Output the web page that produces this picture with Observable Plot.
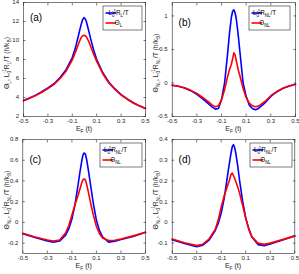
<!DOCTYPE html>
<html><head><meta charset="utf-8">
<script src="https://cdn.jsdelivr.net/npm/d3@7"></script>
<script src="https://cdn.jsdelivr.net/npm/@observablehq/plot@0.6"></script>
<style>
body{margin:0;background:#fff;}
#wrap{position:relative;width:299px;height:274px;overflow:hidden;background:#fff;}
.panel{position:absolute;}
</style></head><body><div id="wrap"></div>
<script>
const xTicks = [-0.5, -0.3, -0.1, 0.1, 0.3, 0.5];
const panelLabels = ["(a)", "(b)", "(c)", "(d)"];

const yTicksA = [2, 4, 6, 8, 10, 12, 14];
const yTicksB = [-0.5, 0, 0.5, 1];
const yTicksC = [-0.2, 0, 0.2, 0.4, 0.6, 0.8];
const yTicksD = [-0.1, 0, 0.1, 0.2, 0.3, 0.4];

const xA = [-0.5,-0.45,-0.4,-0.35,-0.3,-0.25,-0.2,-0.15,-0.1,-0.075,-0.05,-0.035,-0.025,-0.015,-0.005,0.005,0.015,0.025,0.035,0.05,0.075,0.1,0.15,0.2,0.25,0.3,0.35,0.4,0.45,0.5];
const blueA = [3.68,3.95,4.25,4.6,5.0,5.45,6.1,6.95,8.2,9.2,10.5,11.3,11.8,12.2,12.4,12.3,12.0,11.5,11.0,10.2,9.0,8.0,6.6,5.6,4.9,4.3,3.85,3.45,3.12,2.85];
const redA  = [3.66,3.92,4.2,4.55,4.93,5.38,6.0,6.8,7.95,8.75,9.6,10.1,10.35,10.5,10.55,10.5,10.4,10.15,9.9,9.4,8.55,7.8,6.5,5.52,4.85,4.26,3.82,3.42,3.1,2.84];

const xB = [-0.5,-0.45,-0.4,-0.35,-0.3,-0.25,-0.2,-0.175,-0.15,-0.125,-0.1,-0.075,-0.05,-0.035,-0.02,-0.01,0,0.01,0.02,0.035,0.05,0.075,0.1,0.125,0.15,0.175,0.2,0.25,0.3,0.35,0.4,0.45,0.5];
const blueB = [-0.035,-0.05,-0.075,-0.115,-0.17,-0.24,-0.32,-0.36,-0.39,-0.38,-0.25,0.0,0.45,0.75,0.98,1.07,1.09,1.05,0.95,0.72,0.45,0.0,-0.2,-0.33,-0.38,-0.4,-0.38,-0.3,-0.2,-0.13,-0.08,-0.045,-0.02];
const redB  = [-0.035,-0.05,-0.07,-0.11,-0.155,-0.22,-0.29,-0.33,-0.355,-0.34,-0.25,-0.1,0.1,0.2,0.28,0.36,0.45,0.42,0.33,0.2,0.1,-0.08,-0.22,-0.3,-0.34,-0.355,-0.345,-0.28,-0.19,-0.125,-0.075,-0.045,-0.02];

const xC = [-0.5,-0.4,-0.3,-0.25,-0.2,-0.15,-0.125,-0.1,-0.075,-0.05,-0.035,-0.02,-0.01,0,0.01,0.02,0.035,0.05,0.075,0.1,0.125,0.15,0.2,0.25,0.3,0.4,0.5];
const blueC = [-0.11,-0.145,-0.178,-0.192,-0.18,-0.12,-0.06,0.03,0.17,0.36,0.48,0.59,0.65,0.67,0.66,0.61,0.5,0.38,0.18,0.02,-0.08,-0.14,-0.19,-0.182,-0.165,-0.135,-0.095];
const redC  = [-0.105,-0.14,-0.17,-0.18,-0.17,-0.1,-0.03,0.07,0.17,0.26,0.32,0.38,0.41,0.42,0.41,0.37,0.29,0.2,0.07,-0.04,-0.11,-0.15,-0.175,-0.172,-0.16,-0.13,-0.095];

const xD = [-0.5,-0.4,-0.3,-0.25,-0.2,-0.15,-0.125,-0.1,-0.075,-0.05,-0.035,-0.02,-0.01,0,0.01,0.02,0.035,0.05,0.075,0.1,0.125,0.15,0.2,0.25,0.3,0.4,0.5];
const blueD = [-0.084,-0.102,-0.117,-0.11,-0.086,-0.04,-0.005,0.045,0.12,0.22,0.28,0.335,0.365,0.375,0.36,0.33,0.27,0.2,0.1,0.02,-0.03,-0.07,-0.107,-0.112,-0.104,-0.085,-0.065];
const redD  = [-0.08,-0.098,-0.112,-0.105,-0.08,-0.035,0.01,0.075,0.13,0.175,0.2,0.232,0.238,0.225,0.212,0.195,0.17,0.14,0.08,0.02,-0.035,-0.07,-0.1,-0.106,-0.1,-0.083,-0.065];

const panels = [
  {x: xA, blue: blueA, red: redA, yDomain: [2, 14], yTicks: yTicksA, kind: "L", left: 0, top: 0, width: 150, ml: 23, mr: 5, labelY: 21, ylx: 8.5, lx: 103, lw: 39},
  {x: xB, blue: blueB, red: redB, yDomain: [-0.5, 1.2], yTicks: yTicksB, kind: "NL", left: 150, top: 0, width: 149, ml: 21.7, mr: 4, labelY: 26, ylx: 7.5, lx: 99, lw: 41},
  {x: xC, blue: blueC, red: redC, yDomain: [-0.3, 0.8], yTicks: yTicksC, kind: "NL", left: 0, top: 137, width: 150, ml: 22.3, mr: 5, labelY: 26, ylx: 9, lx: 100, lw: 42},
  {x: xD, blue: blueD, red: redD, yDomain: [-0.15, 0.4], yTicks: yTicksD, kind: "NL", left: 150, top: 137, width: 149, ml: 21.7, mr: 4.7, labelY: 26, ylx: 7.5, lx: 100, lw: 42}
];

const FONT = "'Liberation Sans', Arial, Helvetica, sans-serif";
const INK = "#262626";

function rich(sel, parts, fs) {
  let cur = 0;
  for (const [s, kind, dxEm] of parts) {
    const target = kind === "sub" ? 0.32 * fs : kind === "sup" ? -0.42 * fs : 0;
    const size = kind === "n" ? fs : 0.7 * fs;
    const t = sel.append("tspan").attr("font-size", size).attr("dy", target - cur).text(s);
    if (dxEm) t.attr("dx", dxEm * fs);
    cur = target;
  }
}

const wrap = d3.select("#wrap");
const H = 137, MT = 2, MB = 21;

panels.forEach((p, i) => {
  const blueData = p.x.map((v, j) => ({x: v, y: p.blue[j]}));
  const redData = p.x.map((v, j) => ({x: v, y: p.red[j]}));
  const svg = Plot.plot({
    width: p.width, height: H,
    marginLeft: p.ml, marginRight: p.mr, marginTop: MT, marginBottom: MB,
    x: {domain: [-0.5, 0.5]},
    y: {domain: p.yDomain},
    style: {fontFamily: FONT, fontSize: "6px", color: INK, background: "transparent", overflow: "visible"},
    marks: [
      Plot.axisX({ticks: xTicks, anchor: "bottom", tickSize: 2.5, dy: -2.5, tickPadding: 2.6, tickFormat: d => String(d), label: null, strokeWidth: 0.6}),
      Plot.axisX({ticks: xTicks, anchor: "top", tickSize: 2.5, dy: 2.5, tickFormat: () => "", label: null, strokeWidth: 0.6}),
      Plot.axisY({ticks: p.yTicks, anchor: "left", tickSize: 2.5, dx: 2.5, tickPadding: 4.5, tickFormat: d => String(d), label: null, strokeWidth: 0.6}),
      Plot.axisY({ticks: p.yTicks, anchor: "right", tickSize: 2.5, dx: -2.5, tickFormat: () => "", label: null, strokeWidth: 0.6}),
      Plot.line(blueData, {x: "x", y: "y", stroke: "#0000ff", strokeWidth: 1.6}),
      Plot.line(redData, {x: "x", y: "y", stroke: "#ff0000", strokeWidth: 1.6}),
      Plot.frame({stroke: INK, strokeWidth: 0.6})
    ]
  });
  const div = wrap.append("div").attr("class", "panel")
    .style("left", p.left + "px").style("top", p.top + "px");
  div.node().appendChild(svg);
  const s = d3.select(svg);
  const fx0 = p.ml, fx1 = p.width - p.mr, fy0 = MT, fy1 = H - MB;

  // panel label
  s.append("text").attr("x", fx0 + 13).attr("y", p.labelY)
    .attr("font-family", FONT).attr("font-size", 10).attr("fill", "#000").text(panelLabels[i]);

  // x label
  const xl = s.append("text").attr("x", (fx0 + fx1) / 2).attr("y", 131)
    .attr("text-anchor", "middle").attr("font-family", FONT).attr("fill", INK);
  rich(xl, [["E", "n"], ["F", "sub"], [" (t)", "n"]], 7);

  // y label
  const sub = p.kind;
  const yl = s.append("text")
    .attr("transform", `translate(${p.ylx},${(fy0 + fy1) / 2 + 4}) rotate(-90)`)
    .attr("text-anchor", "middle").attr("font-family", FONT).attr("fill", INK);
  rich(yl, [["Θ", "n"], [sub, "sub"], [", L", "n"], ["0", "sub"], ["-1", "sup", -0.39], ["R", "n"], [sub, "sub"], ["/T (h/k", "n"], ["B", "sub"], [")", "n"]], 6.8);

  // legend
  const ly = 6, lh = 24;
  const g = s.append("g").attr("font-family", FONT).attr("fill", "#000");
  g.append("rect").attr("x", p.lx).attr("y", ly).attr("width", p.lw).attr("height", lh)
    .attr("fill", "#fff").attr("stroke", INK).attr("stroke-width", 0.6);
  const rows = [
    {c: "#0000ff", parts: [["L", "n"], ["0", "sub"], ["-1", "sup", -0.39], ["R", "n"], [sub, "sub"], ["/T", "n"]]},
    {c: "#ff0000", parts: [["Θ", "n"], [sub, "sub"]]}
  ];
  rows.forEach((r, k) => {
    const yy = ly + 7 + k * 10;
    g.append("line").attr("x1", p.lx + 2.5).attr("x2", p.lx + 13).attr("y1", yy).attr("y2", yy)
      .attr("stroke", r.c).attr("stroke-width", 1.6);
    const t = g.append("text").attr("x", p.lx + 15.5).attr("y", yy + 2.2).attr("fill", "#000");
    rich(t, r.parts, 6.3);
  });
});
</script>
</body></html>
